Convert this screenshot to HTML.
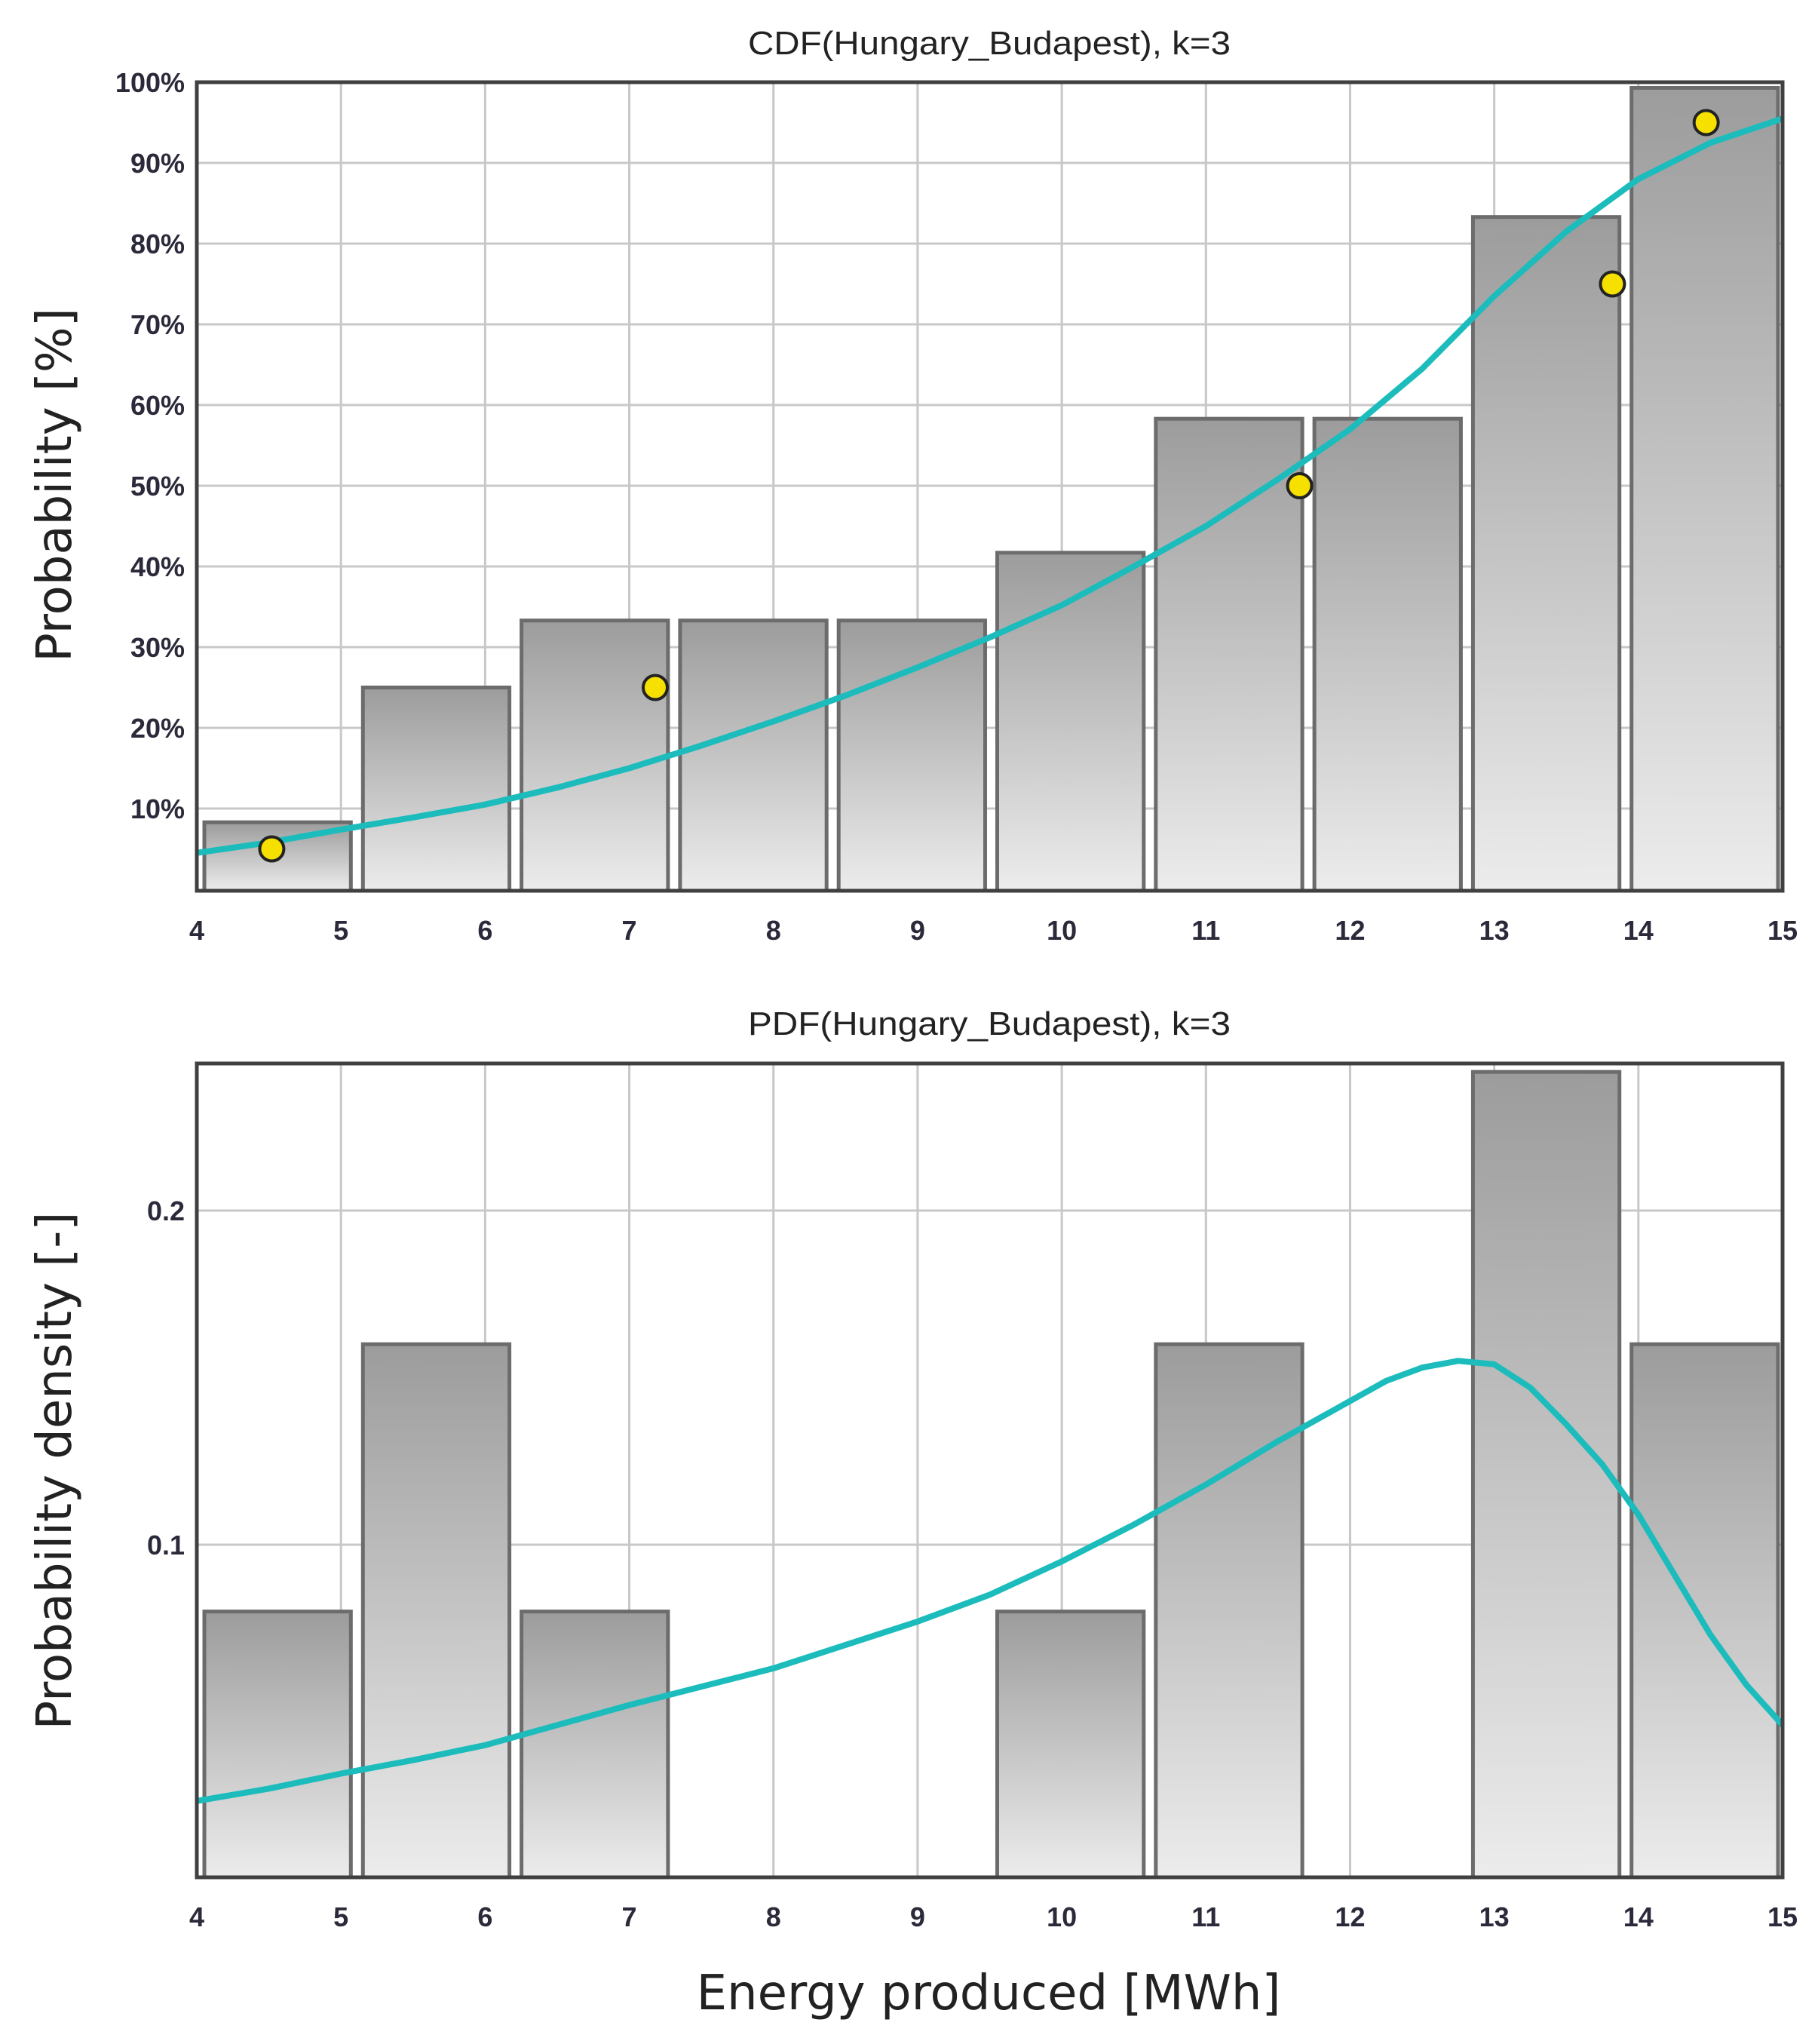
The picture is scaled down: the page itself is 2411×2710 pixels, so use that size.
<!DOCTYPE html>
<html><head><meta charset="utf-8"><style>
html,body{margin:0;padding:0;background:#fff;}
svg{display:block;}
text{font-family:"Liberation Sans",Arial,sans-serif;}
</style></head><body>
<svg id="chart" width="2411" height="2710" viewBox="0 0 2411 2710" xmlns="http://www.w3.org/2000/svg">
<defs>
<linearGradient id="barGrad" x1="0" y1="0" x2="0" y2="1">
<stop offset="0" stop-color="#9c9c9c"/><stop offset="1" stop-color="#ececec"/>
</linearGradient>
</defs>
<text x="1312" y="72" font-size="44" text-anchor="middle" fill="#222" textLength="640" lengthAdjust="spacingAndGlyphs">CDF(Hungary_Budapest), k=3</text>
<text x="1312" y="1372" font-size="44" text-anchor="middle" fill="#222" textLength="640" lengthAdjust="spacingAndGlyphs">PDF(Hungary_Budapest), k=3</text>
<text transform="translate(94,643) rotate(-90)" font-size="64" text-anchor="middle" fill="#222" style="font-family:'DejaVu Sans',sans-serif">Probability [%]</text>
<text transform="translate(94,1950) rotate(-90)" font-size="64" text-anchor="middle" fill="#222" style="font-family:'DejaVu Sans',sans-serif">Probability density [-]</text>
<text x="1311" y="2664" font-size="64" text-anchor="middle" fill="#222" style="font-family:'DejaVu Sans',sans-serif">Energy produced [MWh]</text>
<g id="cdf"></g>
<g id="pdf"></g>
</svg>
<script>
const xTicks = [4,5,6,7,8,9,10,11,12,13,14,15];
const binStarts = [4.0,5.1,6.2,7.3,8.4,9.5,10.6,11.7,12.8,13.9];
const binWidth = 1.1;
const cdfBars = [8.3,25,33.3,33.3,33.3,41.7,58.3,58.3,83.3,99.3];
const cdfTicks = [10,20,30,40,50,60,70,80,90,100];
const cdfTickLabels = ["10%","20%","30%","40%","50%","60%","70%","80%","90%","100%"];
const cdfPointsX = [4.52,7.18,11.65,13.82,14.47];
const cdfPointsY = [5,25,50,75,95];
const cdfCurveX = [4,4.5,5,5.5,6,6.5,7,7.5,8,8.5,9,9.5,10,10.5,11,11.5,12,12.5,13,13.5,14,14.5,15];
const cdfCurveY = [4.5,5.8,7.4,8.9,10.5,12.6,15,17.8,20.8,24,27.5,31.2,35.2,40,45,50.8,57,64.5,73.5,81.5,88,92.5,95.5];
const pdfBars = [0.08,0.16,0.08,0,0,0.08,0.16,0,0.2415,0.16];
const pdfTicks = [0.1,0.2];
const pdfTickLabels = ["0.1","0.2"];
const pdfCurveX = [4,4.5,5,5.5,6,6.5,7,7.5,8,8.5,9,9.5,10,10.5,11,11.5,12,12.25,12.5,12.75,13,13.25,13.5,13.75,14,14.25,14.5,14.75,15];
const pdfCurveY = [0.0233,0.027,0.0315,0.0355,0.040,0.046,0.052,0.0575,0.063,0.07,0.077,0.085,0.095,0.106,0.118,0.131,0.143,0.149,0.153,0.155,0.154,0.147,0.136,0.124,0.109,0.091,0.073,0.058,0.046];

const NS = "http://www.w3.org/2000/svg";
const X0 = 261, X1 = 2364;
function xs(v){ return X0 + (v-4)/11*(X1-X0); }
function mk(tag, attrs, parent){ const e=document.createElementNS(NS,tag); for(const k in attrs) e.setAttribute(k,attrs[k]); parent.appendChild(e); return e; }

function drawPanel(gId, top, bottom, ys, ticks, tickLabels, bars, curveX, curveY, prefix){
  const g = document.getElementById(gId);
  xTicks.forEach(t=>{
    if(t===4||t===15) return;
    const l = mk('line',{x1:xs(t),x2:xs(t),y1:top,y2:bottom,stroke:'#c8c8c8','stroke-width':3},g);
    
    
  });
  ticks.forEach(t=>{
    const y=ys(t); if(y<top+3) return;
    const l = mk('line',{x1:X0,x2:X1,y1:y,y2:y,stroke:'#c8c8c8','stroke-width':3},g);
    
    
  });
  bars.forEach((v,i)=>{
    if(v<=0) return;
    const xa = xs(binStarts[i])+10, xb = xs(binStarts[i]+binWidth)-6;
    const y = ys(v);
    const r = mk('rect',{x:xa,y:y,width:xb-xa,height:bottom-y,fill:'url(#barGrad)',stroke:'#6c6c6c','stroke-width':5},g);
    
    
  });
  let d='';
  curveX.forEach((x,i)=>{ d += (i?'L':'M')+xs(x).toFixed(1)+','+ys(curveY[i]).toFixed(1); });
  const p = mk('path',{d:d,fill:'none',stroke:'#1cbcbc','stroke-width':8,'stroke-linejoin':'round'},g);
  
  
  const f = mk('rect',{x:X0,y:top,width:X1-X0,height:bottom-top,fill:'none',stroke:'#404040','stroke-width':5},g);
  
  
  ticks.forEach((t,i)=>{
    const tx = mk('text',{x:X0-16,y:ys(t)+13,'font-size':36,'font-weight':'bold','text-anchor':'end',fill:'#2a2a3a'},g);
    tx.textContent = tickLabels[i];
    
    
  });
  xTicks.forEach(t=>{
    const tx = mk('text',{x:xs(t),y:bottom+65,'font-size':36,'font-weight':'bold','text-anchor':'middle',fill:'#2a2a3a'},g);
    tx.textContent = String(t);
    
    
  });
}

const cdfTop=109, cdfBottom=1181;
function ysCdf(v){ return 1179 - v*10.7; }
drawPanel('cdf', cdfTop, cdfBottom, ysCdf, cdfTicks, cdfTickLabels, cdfBars, cdfCurveX, cdfCurveY, 'cdf');
const gc = document.getElementById('cdf');
cdfPointsX.forEach((x,i)=>{
  const c = mk('circle',{cx:xs(x),cy:ysCdf(cdfPointsY[i]),r:16,fill:'#f5e000',stroke:'#222','stroke-width':4},gc);
  
  
});

const pdfTop=1410, pdfBottom=2489;
function ysPdf(v){ return 2491 - v*4430; }
drawPanel('pdf', pdfTop, pdfBottom, ysPdf, pdfTicks, pdfTickLabels, pdfBars, pdfCurveX, pdfCurveY, 'pdf');
</script>
</body></html>
